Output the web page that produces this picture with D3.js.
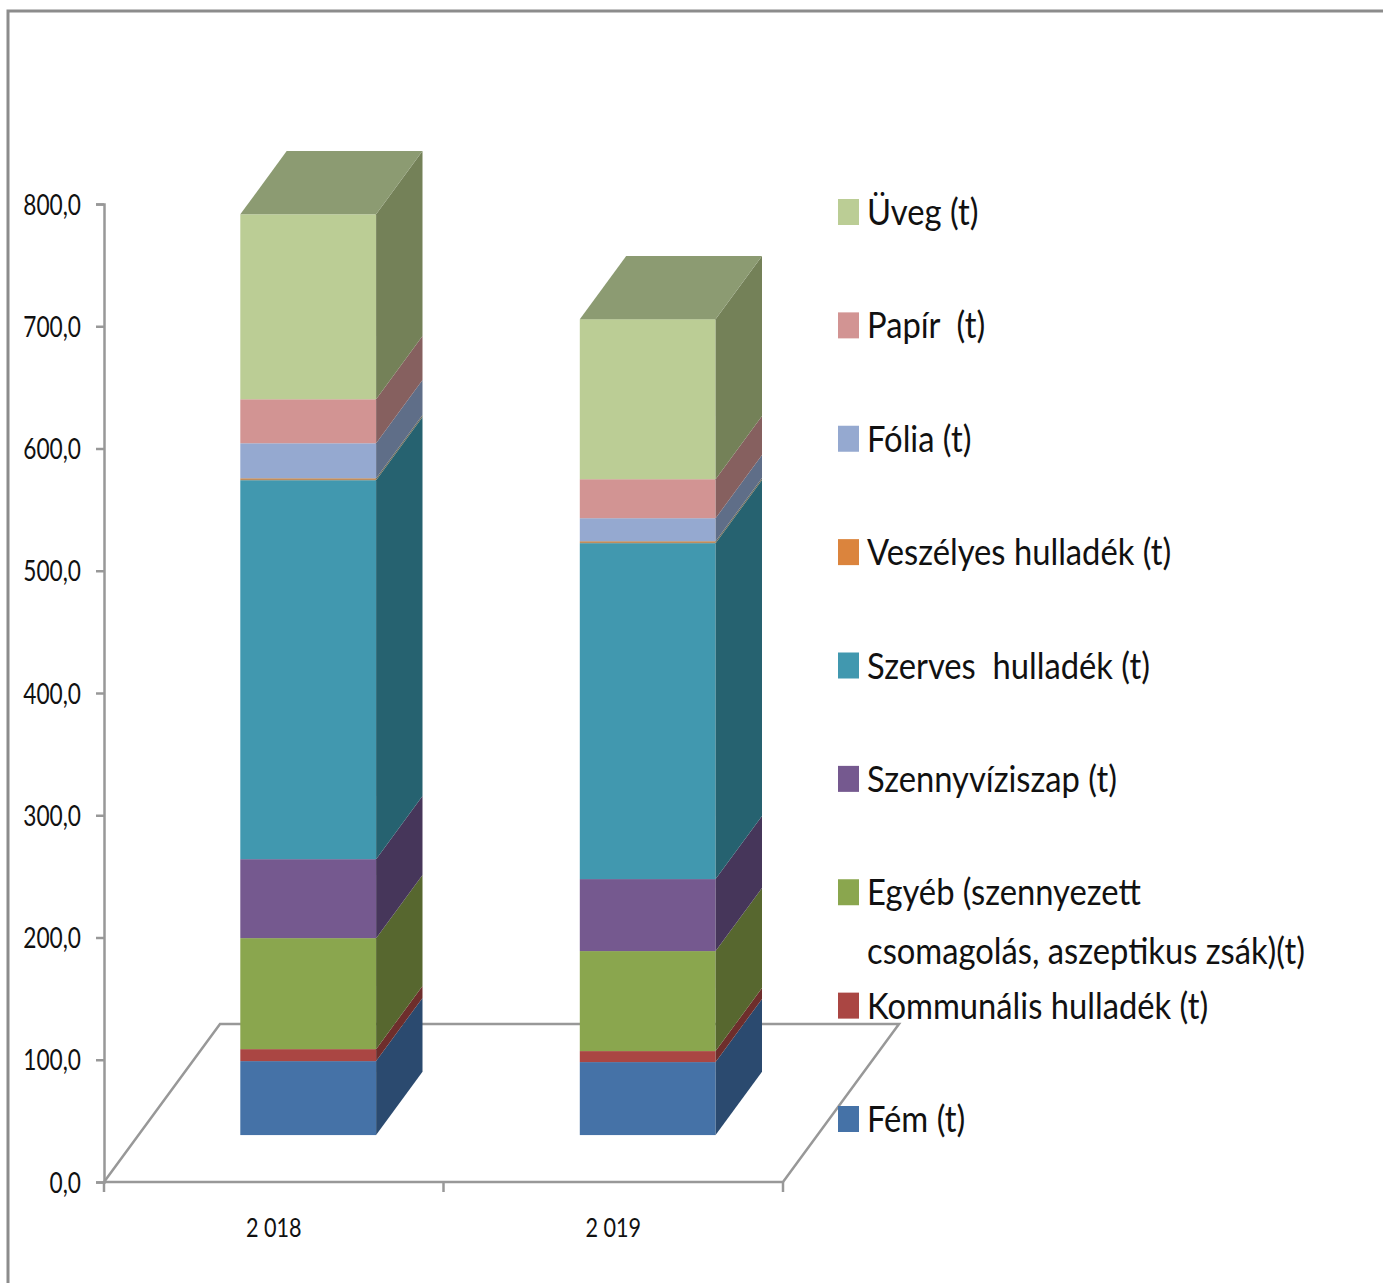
<!DOCTYPE html>
<html>
<head>
<meta charset="utf-8">
<script src="https://cdn.jsdelivr.net/npm/d3@7"></script>
<style>
  html, body { margin: 0; padding: 0; background: #fff; overflow: hidden; }
  text { font-family: Lato, "Open Sans", sans-serif; fill: #111; white-space: pre; }
</style>
</head>
<body>
<svg id="chart" width="1383" height="1283"></svg>
<script>
const years = ['2 018', '2 019'];
const seriesNames = ['Fém (t)', 'Kommunális hulladék (t)', 'Egyéb (szennyezett|csomagolás, aszeptikus zsák)(t)',
  'Szennyvíziszap (t)', 'Szerves  hulladék (t)', 'Veszélyes hulladék (t)', 'Fólia (t)', 'Papír  (t)', 'Üveg (t)'];
const values2018 = [60.5, 9.8, 90.8, 64.6, 310, 1.6, 28.6, 36, 151.3];
const values2019 = [59.7, 9, 81.8, 58.9, 274.8, 1.6, 18.8, 31.9, 130.9];
const frontColors = ['#4572a7', '#aa4643', '#8aa64e', '#75598f', '#4198af', '#c08d5c', '#95a9d0', '#d29493', '#bbcd95'];
const legendColors = ['#4572a7', '#aa4643', '#8aa64e', '#75598f', '#4198af', '#db843d', '#95a9d0', '#d29493', '#bbcd95'];
const sideColors = ['#2b4a6f', '#6e2e2c', '#57672f', '#46365a', '#266270', '#6a6a58', '#5f6e88', '#86605f', '#748158'];
const topColor = '#8c9b72';
const yTicks = [0, 100, 200, 300, 400, 500, 600, 700, 800];

const svg = d3.select('#chart');
const axisColor = '#989898';

// floor depth of the 3D box, and how deep the bars sit inside it
const floorDx = 116, floorDy = -158;
const barOffset = 0.297, barDepth = 0.4;

const yScale = d3.scaleLinear().domain([0, 800]).range([1182, 204]);
const xScale = d3.scaleBand().domain(years).range([104, 783]).paddingInner(0.6).paddingOuter(0.3);

const rows = years.map((year, i) => {
  const row = { year };
  const vals = i === 0 ? values2018 : values2019;
  seriesNames.forEach((s, j) => { row[s] = vals[j]; });
  return row;
});
const stacked = d3.stack().keys(seriesNames)(rows);

// outer frame, runs off the right and bottom of the page
svg.append('rect')
  .attr('x', 8).attr('y', 11).attr('width', 1500).attr('height', 1400)
  .attr('fill', 'none').attr('stroke', '#8c8c8c').attr('stroke-width', 3);

// floor
const x0 = xScale.range()[0], x1 = xScale.range()[1], yBase = yScale(0);
svg.append('path')
  .attr('d', `M${x0},${yBase}L${x0 + floorDx},${yBase + floorDy}L${x1 + floorDx},${yBase + floorDy}L${x1},${yBase}Z`)
  .attr('fill', 'none').attr('stroke', axisColor).attr('stroke-width', 2.5);

// y axis
const yAxis = svg.append('g')
  .attr('transform', `translate(${x0},0)`)
  .call(d3.axisLeft(yScale).tickValues(yTicks).tickSize(8).tickPadding(13)
    .tickFormat(d => d3.format('.1f')(d).replace('.', ',')));
yAxis.select('.domain').attr('stroke', axisColor).attr('stroke-width', 2.5);
yAxis.selectAll('.tick line').attr('stroke', axisColor).attr('stroke-width', 2.5);
yAxis.selectAll('.tick text')
  .attr('x', 0).attr('dy', null)
  .attr('text-anchor', 'end')
  .style('font-size', '28px')
  .attr('transform', 'translate(-23,10) scale(0.81,1)');

// x axis: ticks sit on the band edges, labels in the middle
const xAxis = svg.append('g')
  .attr('transform', `translate(0,${yBase})`)
  .call(d3.axisBottom(xScale).tickSize(0).tickPadding(0));
xAxis.select('.domain').remove();
xAxis.selectAll('.tick text')
  .attr('y', 0).attr('dy', null)
  .style('font-size', '27px')
  .attr('transform', 'translate(0,55) scale(0.8,1)');
xAxis.selectAll('.edge')
  .data([x0, (x0 + x1) / 2, x1])
  .enter().append('line')
  .attr('class', 'edge')
  .attr('x1', d => d).attr('x2', d => d)
  .attr('y1', 0).attr('y2', 10)
  .attr('stroke', axisColor).attr('stroke-width', 2.5);

// bars
const shiftX = floorDx * barOffset, shiftY = floorDy * barOffset;
const depthX = floorDx * barDepth, depthY = floorDy * barDepth;
const barGroup = svg.append('g');

stacked.forEach((layer, s) => {
  layer.forEach(seg => {
    const left = xScale(seg.data.year) + shiftX;
    const right = left + xScale.bandwidth();
    const yLow = yScale(seg[0]) + shiftY;
    const yHigh = yScale(seg[1]) + shiftY;

    barGroup.append('rect')
      .attr('x', left).attr('y', yHigh)
      .attr('width', xScale.bandwidth()).attr('height', yLow - yHigh)
      .attr('fill', frontColors[s]);

    barGroup.append('path')
      .attr('d', `M${right},${yLow}L${right + depthX},${yLow + depthY}L${right + depthX},${yHigh + depthY}L${right},${yHigh}Z`)
      .attr('fill', sideColors[s]);

    // only the last series shows its lid
    if (s === stacked.length - 1) {
      barGroup.append('path')
        .attr('d', `M${left},${yHigh}L${left + depthX},${yHigh + depthY}L${right + depthX},${yHigh + depthY}L${right},${yHigh}Z`)
        .attr('fill', topColor);
    }
  });
});

// legend, top entry is the last series
const legendY = d3.scalePoint().domain(seriesNames.slice().reverse()).range([212, 1119]);
const legend = svg.append('g');

seriesNames.forEach((name, s) => {
  const cy = legendY(name);
  legend.append('rect')
    .attr('x', 838).attr('y', cy - 13)
    .attr('width', 21).attr('height', 26)
    .attr('fill', legendColors[s]);

  name.split('|').forEach((line, k) => {
    legend.append('text')
      .attr('transform', `translate(867,${cy + 13 + k * 59}) scale(0.885,1)`)
      .style('font-size', '37px')
      .text(line);
  });
});
</script>
</body>
</html>
